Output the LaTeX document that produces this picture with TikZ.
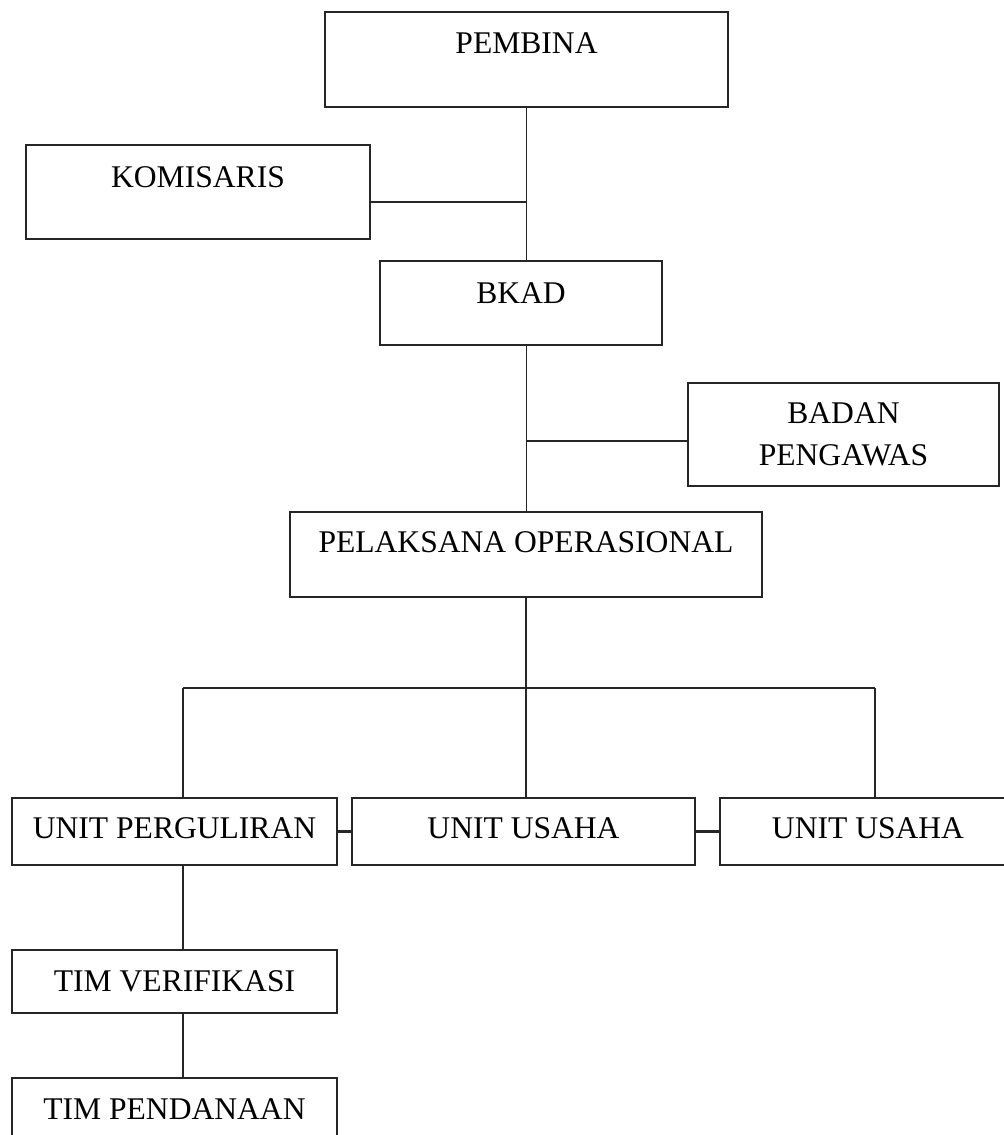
\documentclass[tikz,border=0pt]{standalone}
\usepackage{fontspec}
\setmainfont{Liberation Serif}
\usepackage{tikz}
\usetikzlibrary{positioning}

\begin{document}
\begin{tikzpicture}[
      x=0.38pt, y=-0.38pt,
      font=\fontsize{12}{16}\selectfont
    ]

    \tikzstyle{box} = [rectangle, draw=black!85, line width=0.6pt, outer sep=0pt, text centered, minimum height=25.5pt]

    \tikzstyle{link} = [draw=black!85, line width=0.6pt]

    \useasboundingbox (0,0) rectangle (1003,1135);

    \node [box, minimum width=153.1pt, minimum height=36.1pt, text depth=12.5pt] (pembina) at (526.5,59.5) {
    	PEMBINA
        };
    \node [box, minimum width=130.7pt, minimum height=35.7pt, text depth=11.4pt] (komisaris) at (198,192) {
    	KOMISARIS
        };
    \node [box, minimum width=107.2pt, minimum height=31.9pt, text depth=7.6pt] (bkad) at (521,303) {
    	BKAD
        };
    \node [box, minimum width=118.2pt, minimum height=39.1pt, align=center] (pengawas) at (843.5,434.5) {
    	BADAN\\PENGAWAS
        };
    \node [box, minimum width=179.4pt, minimum height=32.3pt, text depth=9.5pt] (pelaksana) at (526,554.5) {
    	PELAKSANA OPERASIONAL
        };

    \node [box, minimum width=123.5pt, text depth=3pt] (perguliran) at (174.5,831.5) {
    	UNIT PERGULIRAN
        };
    \node [box, minimum width=130.3pt, text depth=3pt] (usaha) at (523.5,831.5) {
    	UNIT USAHA
        };
    \node [box, minimum width=112.5pt, text depth=3pt] (usahadua) at (868,831.5) {
    	UNIT USAHA
        };

    \node [box, minimum width=123.5pt, minimum height=23.9pt] (verifikasi) [below=32.3pt of perguliran] {
    	TIM VERIFIKASI
        };
    \node [box, minimum width=123.5pt, minimum height=23.9pt] (pendanaan) [below=24.7pt of verifikasi] {
    	TIM PENDANAAN
        };

    \coordinate (busL) at (183,688);
    \coordinate (busR) at (875,688);

    \draw [link] (pembina.south) -- (pembina.south |- bkad.north);
    \draw [link] ([yshift=-3.8pt]komisaris.east) -- ([yshift=-3.8pt]komisaris.east -| pembina.south);
    \draw [link] (pembina.south |- bkad.south) -- (pembina.south |- pelaksana.north);
    \draw [link] ([yshift=-2.5pt]pengawas.west) -- ([yshift=-2.5pt]pengawas.west -| pembina.south);

    \draw [link] (pelaksana.south) -- (pelaksana.south |- usaha.north);
    \draw [link] (busL) -- (busR);
    \draw [link] (busL) -- (busL |- perguliran.north);
    \draw [link] (busR) -- (busR |- usahadua.north);
    \draw [link, line width=1.1pt] (perguliran.east) -- (usaha.west);
    \draw [link, line width=1.1pt] (usaha.east) -- (usahadua.west);

    \draw [link] (busL |- perguliran.south) -- (busL |- verifikasi.north);
    \draw [link] (busL |- verifikasi.south) -- (busL |- pendanaan.north);

\end{tikzpicture}
\end{document}
